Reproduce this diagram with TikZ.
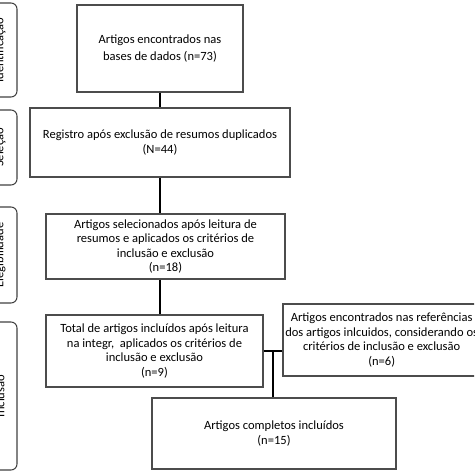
\documentclass[tikz,border=0pt]{standalone}
\usepackage{fontspec}
\setmainfont{Carlito}
\usetikzlibrary{positioning}

\begin{document}
\begin{tikzpicture}[
    x=0.75pt, y=-0.75pt,
    caixa/.style={draw=black!70, line width=0.8pt, align=center, inner sep=0pt, font=\fontsize{9.4}{10.8}\selectfont},
    fase/.style={draw=black!75, line width=0.8pt, rounded corners=4.5pt},
    faselabel/.style={rotate=90, inner sep=0pt, font=\fontsize{9.4}{10}\selectfont},
    liga/.style={line width=1.3pt, black},
]
  \useasboundingbox (0,0) rectangle (474,474);
  \clip (0,0) rectangle (474,474);

  % fases
  \draw[fase] (-40,3) rectangle (17,97);
  \node[faselabel] (ident) at (0,50) {Identificação};
  \draw[fase] (-40,110) rectangle (17,185);
  \node[faselabel] (selecao) at (0,147.5) {Seleção};
  \draw[fase] (-40,207) rectangle (17,303);
  \node[faselabel] (eleg) at (0,255) {Elegibilidade};
  \draw[fase] (-40,322) rectangle (17,470);
  \node[faselabel] (incl) at (0,396) {Inclusão};

  % caixas
  \node[caixa, minimum width=124.5pt, minimum height=65.25pt, font=\fontsize{9.4}{12.8}\selectfont] (encontrados) at (160,48.5) {
    Artigos encontrados nas \\
    bases de dados (n=73)
  };
  \node[caixa, minimum width=195pt, minimum height=51.75pt] (registro) at (160,142.5) {
    Registro após exclusão de resumos duplicados \\
    (N=44)
  };
  \node[caixa, minimum width=179.25pt, minimum height=48.75pt] (selecionados) at (165.5,246.5) {
    Artigos selecionados após leitura de \\
    resumos e aplicados os critérios de \\
    inclusão e exclusão \\
    (n=18)
  };
  \node[caixa, minimum width=162.75pt, minimum height=54pt] (total) at (154.5,351) {
    Total de artigos incluídos após leitura \\
    na integr,\ \ aplicados os critérios de \\
    inclusão e exclusão \\
    (n=9)
  };
  \node[caixa, minimum width=159pt, minimum height=54pt,
    label={[align=center, xshift=-5.5pt, font=\fontsize{9.4}{10.8}\selectfont]center:{
      Artigos encontrados nas referências \\
      dos artigos inlcuidos, considerando os \\
      critérios de inclusão e exclusão \\
      (n=6)}}] (referencias) at (389,340) {};
  \node[caixa, minimum width=183pt, minimum height=53.25pt] (completos) at (274,433.5) {
    Artigos completos incluídos \\
    (n=15)
  };

  % ligacoes
  \draw[liga] (encontrados) -- (registro);
  \draw[liga] (registro.south) -- (registro.south |- selecionados.north);
  \draw[liga] (registro.south |- selecionados.south) -- (registro.south |- total.north);
  \draw[liga] (total.east) -- (total.east -| referencias.west);
  \coordinate (juncao) at (273,351);
  \draw[liga] (juncao) -- (juncao |- completos.north);
\end{tikzpicture}
\end{document}
